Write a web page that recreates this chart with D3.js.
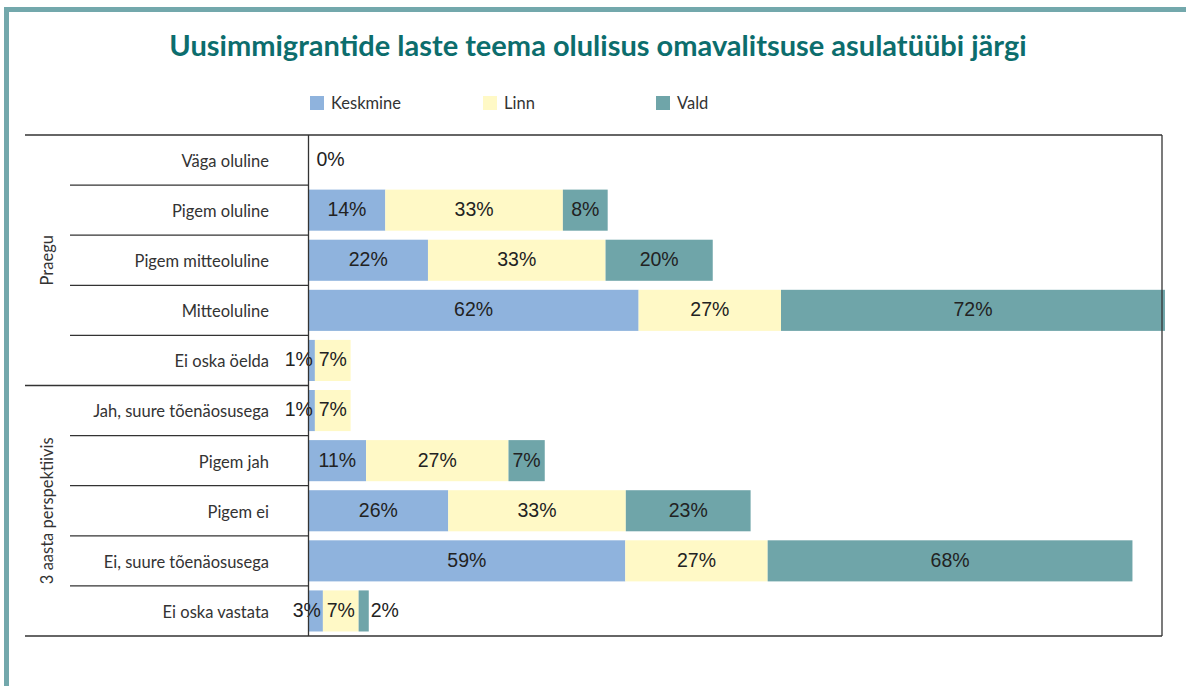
<!DOCTYPE html>
<html>
<head>
<meta charset="utf-8">
<script src="https://d3js.org/d3.v7.min.js"></script>
<style>
  body { margin: 0; background: #fff; }
  svg { display: block; }
</style>
</head>
<body>
<svg width="1186" height="686"></svg>
<script>
  // Data
  const categories = ['Väga oluline', 'Pigem oluline', 'Pigem mitteoluline', 'Mitteoluline', 'Ei oska öelda',
                      'Jah, suure tõenäosusega', 'Pigem jah', 'Pigem ei', 'Ei, suure tõenäosusega', 'Ei oska vastata'];
  const groups = ['Praegu', '3 aasta perspektiivis'];
  const groupSizes = [5, 5];
  const seriesNames = ['Keskmine', 'Linn', 'Vald'];
  const keskmine = [0, 14.4, 22.4, 61.9, 1.2, 1.2, 10.8, 26.2, 59.4, 2.7];
  const linn     = [0, 33.3, 33.3, 26.7, 6.7, 6.7, 26.7, 33.3, 26.7, 6.7];
  const vald     = [0, 8.4, 20.1, 72.0, 0, 0, 6.8, 23.4, 68.4, 1.9];
  const colors = ['#8fb3dd', '#fff9c6', '#6fa5a9'];

  const svg = d3.select('svg');
  const plotLeft = 308.5, plotRight = 1162, plotTop = 135, plotBottom = 636;

  const x = d3.scaleLinear().domain([0, 100]).range([plotLeft, plotLeft + 533.3]);
  const y = d3.scaleBand().domain(categories).range([plotTop, plotBottom]).paddingInner(0.18).paddingOuter(0.09);

  // frame
  svg.append('rect').attr('x', 4).attr('y', 7).attr('width', 5).attr('height', 686).attr('fill', '#73a8ac');
  svg.append('rect').attr('x', 4).attr('y', 7).attr('width', 1186).attr('height', 5).attr('fill', '#73a8ac');

  // title
  svg.append('text')
    .text('Uusimmigrantide laste teema olulisus omavalitsuse asulatüübi järgi')
    .attr('x', 598).attr('y', 56)
    .attr('text-anchor', 'middle')
    .attr('font-family', 'Lato, sans-serif')
    .attr('font-weight', 'bold')
    .attr('font-size', 29)
    .attr('fill', '#0c6d6d');

  // legend
  const legend = svg.selectAll('.leg').data(seriesNames).enter().append('g')
    .attr('transform', (d, i) => 'translate(' + (310 + i * 173) + ',96)');
  legend.append('rect').attr('width', 14).attr('height', 14).attr('fill', (d, i) => colors[i]);
  legend.append('text').text(d => d)
    .attr('x', 21).attr('y', 7).attr('dy', '0.35em')
    .attr('font-family', 'Lato, sans-serif').attr('font-size', 16.5).attr('fill', '#333');

  // stacked data
  const rows = categories.map((c, i) => ({cat: c, Keskmine: keskmine[i], Linn: linn[i], Vald: vald[i]}));
  const stack = d3.stack().keys(seriesNames)(rows);

  const layers = svg.selectAll('.layer').data(stack).enter().append('g')
    .attr('fill', (d, i) => colors[i]);
  layers.selectAll('rect').data(d => d).enter().append('rect')
    .attr('x', d => x(d[0]))
    .attr('y', d => y(d.data.cat))
    .attr('width', d => x(d[1]) - x(d[0]))
    .attr('height', y.bandwidth());

  // value labels
  const labels = [];
  stack.forEach((layer, si) => {
    layer.forEach(d => {
      const v = d[1] - d[0];
      const w = x(d[1]) - x(d[0]);
      if (v === 0 && si > 0) return;
      let lx = (x(d[0]) + x(d[1])) / 2, anchor = 'middle';
      if (v === 0) { lx = plotLeft + 8; anchor = 'start'; }
      else if (w < 20 && si === 0) { lx = x(d[1]) - 2; anchor = 'end'; }
      else if (w < 20) { lx = x(d[1]) + 2; anchor = 'start'; }
      labels.push({t: Math.round(v) + '%', x: lx, y: y(d.data.cat) + y.bandwidth() / 2, a: anchor});
    });
  });
  svg.selectAll('.val').data(labels).enter().append('text')
    .text(d => d.t)
    .attr('x', d => d.x).attr('y', d => d.y).attr('dy', '0.3em')
    .attr('text-anchor', d => d.a)
    .attr('font-family', 'Liberation Sans, Arial, sans-serif')
    .attr('font-size', 19.5)
    .attr('fill', '#222');

  // row labels through the axis
  const yAxis = d3.axisLeft(y).tickSize(0).tickPadding(plotLeft - 269);
  const ax = svg.append('g').attr('transform', 'translate(' + plotLeft + ',0)').call(yAxis);
  ax.select('.domain').remove();
  ax.selectAll('text')
    .attr('dy', '0.42em')
    .attr('font-family', 'Lato, sans-serif').attr('font-size', 16.5).attr('fill', '#333');

  // grid lines
  const step = y.step();
  const lineColor = '#333';
  svg.append('line').attr('x1', 25).attr('x2', plotRight).attr('y1', plotTop).attr('y2', plotTop).attr('stroke', lineColor).attr('stroke-width', 1.3);
  svg.append('line').attr('x1', 25).attr('x2', plotRight).attr('y1', plotBottom).attr('y2', plotBottom).attr('stroke', lineColor).attr('stroke-width', 1.3);
  svg.append('line').attr('x1', plotLeft).attr('x2', plotLeft).attr('y1', plotTop).attr('y2', plotBottom).attr('stroke', lineColor).attr('stroke-width', 1.3);
  svg.append('line').attr('x1', plotRight).attr('x2', plotRight).attr('y1', plotTop).attr('y2', plotBottom).attr('stroke', lineColor).attr('stroke-width', 1.3);

  let acc = 0;
  const groupEnds = groupSizes.map(n => (acc += n));
  categories.slice(1).forEach((c, i) => {
    const yy = plotTop + (i + 1) * step;
    const isGroup = groupEnds.includes(i + 1);
    svg.append('line')
      .attr('x1', isGroup ? 25 : 70).attr('x2', plotLeft)
      .attr('y1', yy).attr('y2', yy)
      .attr('stroke', lineColor).attr('stroke-width', 1.3);
  });

  // group labels
  let start = 0;
  groups.forEach((g, i) => {
    const cy = plotTop + (start + groupSizes[i] / 2) * step;
    start += groupSizes[i];
    svg.append('text').text(g)
      .attr('transform', 'translate(47,' + cy + ') rotate(-90)')
      .attr('text-anchor', 'middle').attr('dy', '0.35em')
      .attr('font-family', 'Lato, sans-serif').attr('font-size', 16.5).attr('fill', '#333');
  });
</script>
</body>
</html>
